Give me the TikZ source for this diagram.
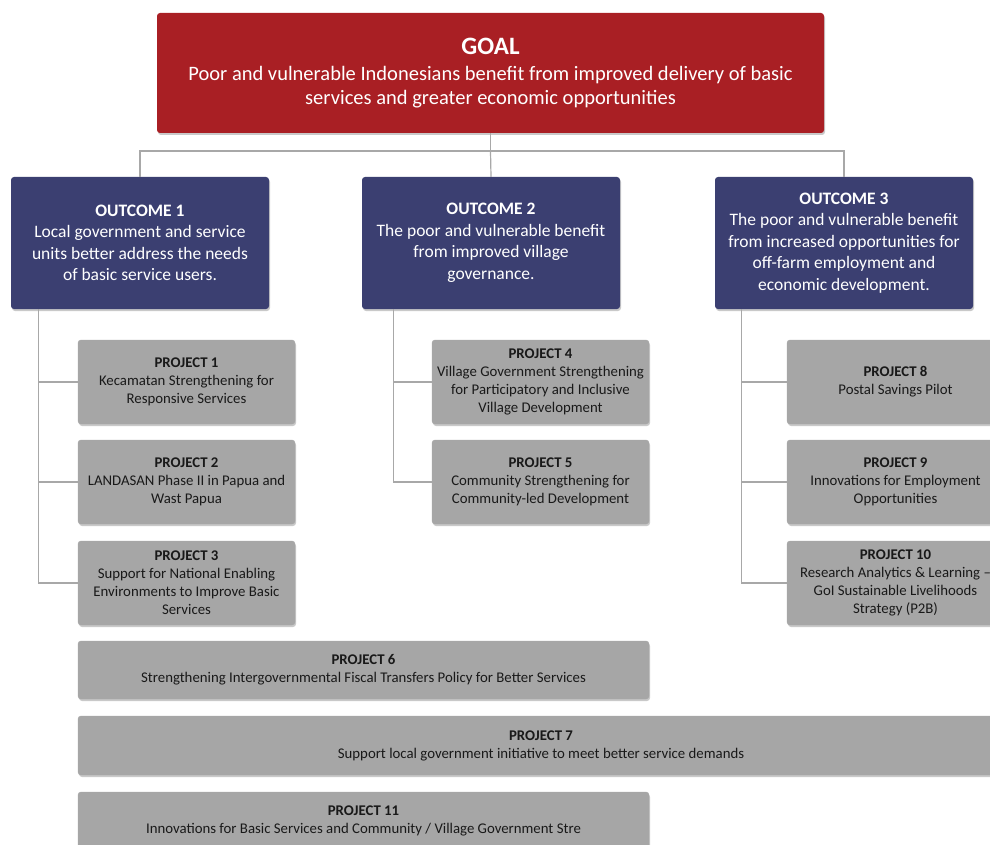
\documentclass[tikz,border=0pt]{standalone}
\usepackage{fontspec}
\setmainfont{Carlito}
\usepackage{tikz}
\usetikzlibrary{calc, shadows}
\definecolor{goalred}{HTML}{A91F24}
\definecolor{outblue}{HTML}{3B3F71}
\definecolor{projgray}{HTML}{A6A6A6}
\definecolor{linkgray}{HTML}{A8A8A8}

\begin{document}
\begin{tikzpicture}[x=1pt, y=-1pt,
  box/.style={rounded corners=3pt, align=center, inner sep=2pt,
    drop shadow={shadow xshift=1pt, shadow yshift=-2pt, opacity=0.3, fill=black!70}},
  goalbox/.style={box, fill=goalred, text=white, minimum width=667pt, minimum height=120pt,
    font=\fontsize{20.5}{24}\selectfont},
  outbox/.style={box, fill=outblue, text=white, minimum width=258pt, minimum height=132pt,
    font=\fontsize{17.5}{21.5}\selectfont},
  projbox/.style={box, fill=projgray, draw=black!35, text=black!90, minimum width=217pt,
    minimum height=84pt, font=\fontsize{14.8}{18}\selectfont},
  widebox/.style={projbox, minimum width=571pt, minimum height=58pt},
  link/.style={draw=linkgray, line width=1.2pt}]
  % page is cut like the reference: boxes on the right and bottom run off it
  \useasboundingbox (0,0) rectangle (990,845);
  \clip (0,0) rectangle (990,845);
  % Goal on top
  \node[goalbox] (goal) at (490.5,73)
    {{\fontsize{25}{28}\selectfont\bfseries GOAL}\\[2pt]
     Poor and vulnerable Indonesians benefit from improved delivery of basic\\
     services and greater economic opportunities};
  % three outcomes in a row
  \node[outbox] (out1) at (140,243)
    {\textbf{OUTCOME 1}\\Local government and service\\units better address the needs\\of basic service users.};
  \node[outbox] (out2) at (491,243)
    {\textbf{OUTCOME 2}\\The poor and vulnerable benefit\\from improved village\\governance.};
  \node[outbox] (out3) at (844,243)
    {\textbf{OUTCOME 3}\\The poor and vulnerable benefit\\from increased opportunities for\\off-farm employment and\\economic development.};
  % projects under outcome 1
  \node[projbox] (p1) at (186.5,382)
    {\textbf{PROJECT 1}\\Kecamatan Strengthening for\\Responsive Services};
  \node[projbox] (p2) at (186.5,482)
    {\textbf{PROJECT 2}\\LANDASAN Phase II in Papua and\\Wast Papua};
  \node[projbox] (p3) at (186.5,583)
    {\textbf{PROJECT 3}\\Support for National Enabling\\Environments to Improve Basic\\Services};
  % projects under outcome 2
  \node[projbox] (p4) at (540.5,382)
    {\textbf{PROJECT 4}\\Village Government Strengthening\\for Participatory and Inclusive\\Village Development};
  \node[projbox] (p5) at (540.5,482)
    {\textbf{PROJECT 5}\\Community Strengthening for\\Community-led Development};
  % projects under outcome 3
  \node[projbox] (p8) at (895.5,382)
    {\textbf{PROJECT 8}\\Postal Savings Pilot};
  \node[projbox] (p9) at (895.5,482)
    {\textbf{PROJECT 9}\\Innovations for Employment\\Opportunities};
  \node[projbox] (p10) at (895.5,583)
    {\textbf{PROJECT 10}\\Research Analytics \& Learning --\\GoI Sustainable Livelihoods\\Strategy (P2B)};
  % wide projects at the bottom
  \node[widebox] (p6) at (363.5,670)
    {\textbf{PROJECT 6}\\Strengthening Intergovernmental Fiscal Transfers Policy for Better Services};
  \node[widebox, minimum width=926pt, minimum height=59pt] (p7) at (541,745.5)
    {\textbf{PROJECT 7}\\Support local government initiative to meet better service demands};
  \node[widebox] (p11) at (363.5,821)
    {\textbf{PROJECT 11}\\Innovations for Basic Services and Community / Village Government Stre};
  % goal to outcomes
  \coordinate (bus) at (490.5,151);
  \draw[link] (goal.south) -- (bus);
  \draw[link] (bus) -| (out1.north);
  \draw[link] (bus) -- (out2.north);
  \draw[link] (bus) -| (out3.north);
  % outcomes to projects
  \draw[link] ($(out1.south west)+(28,0)$) |- (p1.west);
  \draw[link] ($(out1.south west)+(28,0)$) |- (p2.west);
  \draw[link] ($(out1.south west)+(28,0)$) |- (p3.west);
  \draw[link] ($(out2.south west)+(32,0)$) |- (p4.west);
  \draw[link] ($(out2.south west)+(32,0)$) |- (p5.west);
  \draw[link] ($(out3.south west)+(27,0)$) |- (p8.west);
  \draw[link] ($(out3.south west)+(27,0)$) |- (p9.west);
  \draw[link] ($(out3.south west)+(27,0)$) |- (p10.west);
\end{tikzpicture}
\end{document}
